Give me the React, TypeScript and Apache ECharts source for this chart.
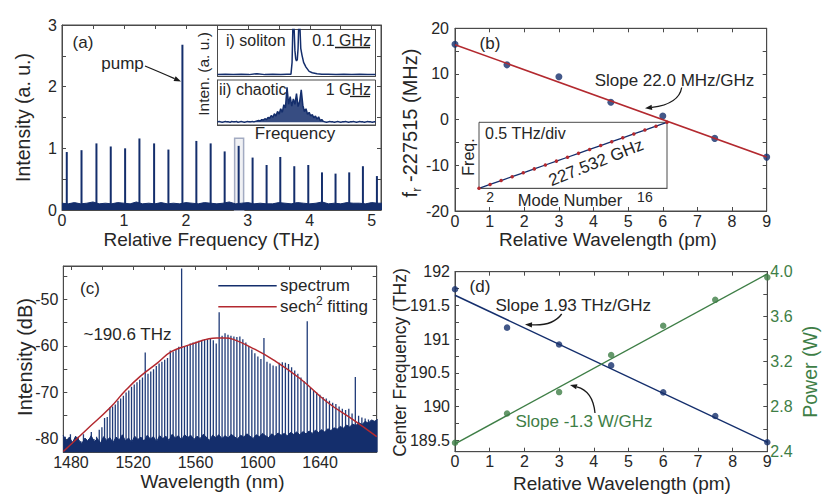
import React, { useEffect, useRef } from "react";
import * as echarts from "echarts";

// ---------- Panel (a): comb spectrum ----------
const aFreqTHz = [0.077, 0.315, 0.556, 0.787, 1.019, 1.25, 1.487, 1.718, 1.944, 2.169, 2.4, 2.626, 2.852, 3.077, 3.303, 3.524, 3.75, 3.976, 4.197, 4.416, 4.637, 4.858, 5.084];
const aIntensity = [0.94, 0.97, 1.08, 1.03, 1.0, 1.16, 1.08, 0.98, 2.68, 1.12, 1.08, 0.95, 1.04, 0.85, 0.73, 0.86, 0.71, 0.73, 0.61, 0.59, 0.61, 0.71, 0.55];
const aFloorStepTHz = 0.1;
const aFloor = [0.11, 0.1, 0.12, 0.1, 0.11, 0.13, 0.1, 0.11, 0.1, 0.12, 0.11, 0.1, 0.13, 0.1, 0.11, 0.1, 0.12, 0.1, 0.11, 0.1, 0.12, 0.11, 0.1, 0.12, 0.11, 0.1, 0.11, 0.13, 0.1, 0.11, 0.12, 0.1, 0.11, 0.1, 0.1, 0.12, 0.11, 0.1, 0.12, 0.11, 0.1, 0.11, 0.13, 0.1, 0.11, 0.1, 0.12, 0.11, 0.11, 0.1, 0.12, 0.11, 0.11];
const aBoxTHz = [2.787, 2.932];
const aBoxInten = [0, 1.163];

// inset i) soliton
const solFreq = [0, 0.05, 0.1, 0.15, 0.2, 0.25, 0.3, 0.35, 0.4, 0.44, 0.465, 0.472, 0.478, 0.483, 0.49, 0.495, 0.5, 0.505, 0.51, 0.515, 0.52, 0.527, 0.535, 0.545, 0.56, 0.58, 0.6, 0.63, 0.66, 0.7, 0.75, 0.8, 0.85, 0.9, 0.95, 1.0];
const solInten = [0.04, 0.05, 0.04, 0.05, 0.04, 0.06, 0.04, 0.05, 0.04, 0.05, 0.05, 0.3, 1.2, 1.2, 0.55, 0.38, 0.33, 0.36, 0.6, 1.2, 1.2, 0.6, 0.45, 0.3, 0.2, 0.11, 0.08, 0.06, 0.05, 0.05, 0.04, 0.05, 0.04, 0.05, 0.04, 0.04];
// inset ii) chaotic (evenly sampled across the inset window)
const chaoInten = [0.07, 0.08, 0.07, 0.06, 0.07, 0.08, 0.07, 0.07, 0.06, 0.08, 0.07, 0.07, 0.08, 0.06, 0.07, 0.08, 0.07, 0.06, 0.07, 0.08, 0.07, 0.07, 0.08, 0.07, 0.08, 0.09,
  0.1, 0.09, 0.12, 0.11, 0.14, 0.12, 0.17, 0.15, 0.21, 0.17, 0.25, 0.2, 0.3, 0.24, 0.36, 0.28, 0.45, 0.38, 0.84, 0.46, 0.63, 0.42, 0.58, 0.46, 0.7, 0.41, 0.52, 0.78, 0.44, 0.3, 0.36, 0.24, 0.28, 0.2, 0.23, 0.16, 0.2, 0.13, 0.18, 0.1, 0.12, 0.08,
  0.07, 0.06, 0.07, 0.08, 0.07, 0.07, 0.06, 0.07, 0.08, 0.07, 0.06, 0.07, 0.07, 0.08, 0.07, 0.06, 0.07, 0.07, 0.08, 0.07, 0.06, 0.07, 0.08, 0.07, 0.07, 0.06, 0.07, 0.08, 0.07, 0.07, 0.06, 0.07, 0.07];

// ---------- Panel (b) ----------
const bWavelengthPm = [0, 1.5, 3, 4.5, 6, 7.5, 9];
const bFrDevMHz = [16.5, 12.0, 9.4, 3.8, 0.8, -4.1, -8.2];
const bFitPm = [0, 9];
const bFitMHz = [16.4, -8.2];
const modeNumber = [1, 2, 3, 4, 5, 6, 7, 8, 9, 10, 11, 12, 13, 14, 15, 16, 17, 18];
const modeFreqTHz = [0.2275, 0.4551, 0.6826, 0.9101, 1.1377, 1.3652, 1.5927, 1.8203, 2.0478, 2.2753, 2.5029, 2.7304, 2.9579, 3.1854, 3.413, 3.6405, 3.868, 4.0956];

// ---------- Panel (c) ----------
const combFsrTHz = 0.227532;
const combPumpTHz = 193.277;
const combPumpIndex = 43;
const combPeakDb = [
  -79.5, -80.5, -79, -80.5, -81, -79.5, -80.5, -79, -80.5, -80, -78.5, -80, -79.5, -78, -77.5,
  -75.5, -75.3, -73.2, -73, -72.6, -71.8, -71.3, -70.7, -70, -69.6, -68.8, -68.3, -67.8, -67.3, -66.8,
  -61.4, -66, -65.5, -65, -64.3, -63.8, -63.4, -63, -62.6, -61, -61.2, -60.8, -60.2, -43.4, -60,
  -59.8, -59.5, -59.3, -59.1, -58.9, -58.8, -58.6, -58.6, -58.5, -58.8, -59.5, -52.8, -57.8, -57.3, -57.6,
  -57.8, -58, -58.1, -58, -58.6, -59.3, -60, -60.8, -61.6, -62.3, -62.8, -58.3, -63.4, -63.8, -64.2,
  -64.4, -63.6, -63.5, -63.6, -63.9, -64.6, -65.3, -66, -66.8, -67.6, -54.7, -69, -69.6, -70, -70.5,
  -71, -71.3, -71.8, -72.2, -72.5, -73, -73.5, -73.8, -73.5, -74.5, -66.7, -75, -75.4, -75.6, -75.8,
  -76.5, -76.3];
const cFloorStartNm = 1475;
const cFloorStepNm = 2;
const cFloorDb = [-79.2, -80.4, -79.6, -80.8, -79.4, -80.2, -81.0, -79.8, -80.5, -79.3, -80.6, -79.9, -80.9, -79.5, -80.3, -79.7, -80.8, -79.6, -80.2, -79.1,
  -80.4, -79.8, -80.7, -79.4, -80.1, -79.6, -80.5, -79.2, -80.0, -79.5, -80.6, -79.3, -79.9, -79.4, -80.3, -79.0, -79.8, -79.3, -80.2, -79.1,
  -79.7, -79.2, -80.1, -79.4, -79.9, -79.0, -79.6, -80.3, -79.2, -79.7, -79.1, -79.9, -79.3, -79.8, -79.0, -79.5, -80.0, -79.2, -79.6, -78.9,
  -79.4, -79.9, -79.1, -79.5, -78.8, -79.3, -79.7, -78.9, -79.4, -78.7, -79.2, -78.8, -79.3, -78.6, -79.0, -78.5, -79.1, -78.4, -78.9, -78.3,
  -78.8, -78.1, -78.6, -78.0, -78.5, -77.8, -78.2, -77.6, -77.9, -77.3, -77.7, -77.0, -77.4, -76.8, -77.1, -76.5, -76.9, -76.2, -76.6, -75.9,
  -76.2, -75.8];
const cFitNm = [1475.1, 1490, 1505.1, 1515, 1524.3, 1535, 1544.7, 1555, 1562.9, 1568, 1573.6, 1579, 1584.3, 1595, 1610, 1627.1, 1644.3, 1661.4, 1676.4];
const cFitDb = [-82.7, -78.0, -73.3, -69.6, -66.6, -63.8, -61.2, -59.9, -59.0, -58.5, -58.3, -58.3, -58.6, -60.2, -63.0, -67.0, -72.0, -75.9, -79.5];

// ---------- Panel (d) ----------
const dWavelengthPm = [0, 1.5, 3, 4.5, 6, 7.5, 9];
const dCenterTHz = [191.74, 191.17, 190.92, 190.61, 190.21, 189.86, 189.47];
const dPowerW = [2.48, 2.74, 2.93, 3.26, 3.52, 3.75, 3.95];
const dFreqFitPm = [0, 9];
const dFreqFitTHz = [191.65, 189.47];
const dPowFitPm = [0, 9];
const dPowFitW = [2.47, 3.98];

// tick label lists
const aXLabels = [0, 1, 2, 3, 4, 5];
const aYLabels = [0, 1, 2, 3];
const bXLabels = [0, 1, 2, 3, 4, 5, 6, 7, 8, 9];
const bYLabels = [-20, -10, 0, 10, 20];
const bInsetXLabels = [2, 16];
const cXLabels = [1480, 1520, 1560, 1600, 1640];
const cYLabels = [-80, -70, -60, -50];
const dXLabels = [0, 1, 2, 3, 4, 5, 6, 7, 8, 9];
const dYLabels = [189.5, 190, 190.5, 191, 191.5, 192];
const dY2Labels = [2.4, 2.8, 3.2, 3.6, 4.0];

const FONT = '"Liberation Sans", Arial, Helvetica, sans-serif';
const NAVY = "#142e6c";
const RED = "#b3292f";
const GREEN = "#3e7e46";
const TXT = "#262626";
const AX = "#4a4a4a";

const plain = (v: number) => String(v);

function axis(grid: number, pos: string, min: number, max: number, labels: number[] | null, ticks: number[] | null, o: any = {}) {
  return {
    type: "value",
    gridIndex: grid,
    position: pos,
    min,
    max,
    axisLine: { show: true, onZero: false, lineStyle: { color: AX, width: 1 } },
    axisTick: ticks
      ? { show: true, inside: true, length: o.tickLen || 4, customValues: ticks, lineStyle: { color: AX, width: 1 } }
      : { show: false },
    axisLabel: labels
      ? { show: true, customValues: labels, color: o.color || TXT, fontSize: o.size || 16, fontFamily: FONT, margin: o.margin ?? 4, formatter: o.fmt || plain }
      : { show: false },
    splitLine: { show: false },
    minorTick: { show: false },
  };
}

const range = (a: number, b: number, s: number) => {
  const r: number[] = [];
  for (let v = a; v <= b + 1e-9; v += s) r.push(Math.round(v * 1000) / 1000);
  return r;
};

function T(text: string, x: number, y: number, o: any = {}) {
  return {
    type: "text",
    x,
    y,
    z: 100,
    rotation: o.rot || 0,
    style: {
      text,
      fill: o.color || TXT,
      fontSize: o.size || 17,
      fontFamily: FONT,
      align: o.align || "center",
      verticalAlign: "middle",
      rich: o.rich,
    },
  };
}

function arrow(x1: number, y1: number, cx: number, cy: number, x2: number, y2: number, color = "#1a1a1a") {
  const dx = x2 - cx, dy = y2 - cy;
  const L = Math.hypot(dx, dy);
  const ux = dx / L, uy = dy / L;
  const hl = 7, hw = 2.6;
  const bx = x2 - ux * hl, by = y2 - uy * hl;
  return [
    { type: "bezierCurve", z: 100, shape: { x1, y1, x2: bx, y2: by, cpx1: cx, cpy1: cy }, style: { stroke: color, lineWidth: 1.3, fill: "none" } },
    { type: "polygon", z: 100, shape: { points: [[x2, y2], [bx - uy * hw, by + ux * hw], [bx + uy * hw, by - ux * hw]] }, style: { fill: color } },
  ];
}

function hline(x1: number, x2: number, y: number, color: string, w = 1.3) {
  return { type: "line", z: 100, shape: { x1, y1: y, x2, y2: y }, style: { stroke: color, lineWidth: w } };
}

const C_YMIN = -82.86;
const C_YMAX = -42.84;

export default function App() {
  const ref = useRef<HTMLDivElement>(null);
  useEffect(() => {
    if (!ref.current) return;
    const chart = echarts.init(ref.current, null, { renderer: "svg" });

    const combData = combPeakDb.map((db, i) => {
      const f = combPumpTHz + (combPumpIndex - i) * combFsrTHz;
      return [299792.458 / f, db];
    });

    const insetTicksX = [0.083, 0.167, 0.25, 0.333, 0.417, 0.5, 0.583, 0.667, 0.75, 0.833, 0.917];

    const option: any = {
      animation: false,
      backgroundColor: "#ffffff",
      grid: [
        { left: 62, top: 25, width: 319, height: 185, show: true, borderColor: AX, borderWidth: 1 },
        { left: 217.5, top: 29.5, width: 158, height: 47, show: true, borderColor: AX, borderWidth: 1, backgroundColor: "#fff", z: 3 },
        { left: 217.5, top: 80, width: 158, height: 45, show: true, borderColor: AX, borderWidth: 1, backgroundColor: "#fff", z: 3 },
        { left: 455, top: 28.3, width: 311.7, height: 182.7, show: true, borderColor: AX, borderWidth: 1 },
        { left: 479, top: 122.3, width: 188, height: 66, show: true, borderColor: AX, borderWidth: 1, backgroundColor: "#fff", z: 3 },
        { left: 63.3, top: 266, width: 313.4, height: 186.3, show: true, borderColor: AX, borderWidth: 1 },
        { left: 455, top: 271.7, width: 312.3, height: 180, show: true, borderColor: AX, borderWidth: 1 },
      ],
      xAxis: [
        axis(0, "bottom", 0, 5.15, aXLabels, range(0.5, 5, 0.5), { margin: 2 }),
        axis(0, "top", 0, 5.15, null, range(0.5, 5, 0.5)),
        axis(1, "bottom", 0, 1, null, insetTicksX, { tickLen: 3 }),
        axis(2, "bottom", 0, 1, null, insetTicksX, { tickLen: 3 }),
        axis(3, "bottom", 0, 9, bXLabels, range(1, 8, 1), { margin: 2 }),
        axis(3, "top", 0, 9, null, range(1, 8, 1)),
        axis(4, "bottom", 1, 18, bInsetXLabels, range(2, 16, 2), { margin: 2, size: 14, tickLen: 3 }),
        axis(5, "bottom", 1475.1, 1676.4, cXLabels, range(1480, 1660, 20), { margin: 2 }),
        axis(5, "top", 1475.1, 1676.4, null, range(1480, 1660, 20)),
        axis(6, "bottom", 0, 9, dXLabels, range(1, 8, 1), { margin: 2 }),
        axis(6, "top", 0, 9, null, range(1, 8, 1)),
        axis(1, "top", 0, 1, null, insetTicksX, { tickLen: 3 }),
        axis(2, "top", 0, 1, null, insetTicksX, { tickLen: 3 }),
      ],
      yAxis: [
        axis(0, "left", 0, 3, aYLabels, range(0.5, 2.5, 0.5), { margin: 5 }),
        axis(0, "right", 0, 3, null, range(0.5, 2.5, 0.5)),
        axis(1, "left", 0, 1, null, [0.25, 0.5, 0.75], { tickLen: 3 }),
        axis(2, "left", 0, 1, null, [0.25, 0.5, 0.75], { tickLen: 3 }),
        axis(3, "left", -20, 20, bYLabels, range(-15, 15, 5), { margin: 6 }),
        axis(3, "right", -20, 20, null, range(-15, 15, 5)),
        axis(4, "left", 0.2275, 4.0956, null, range(0.5, 4, 0.5), { tickLen: 3 }),
        axis(5, "left", C_YMIN, C_YMAX, cYLabels, range(-80, -45, 5), { margin: 5 }),
        axis(5, "right", C_YMIN, C_YMAX, null, range(-80, -45, 5)),
        axis(6, "left", 189.33, 192, dYLabels, range(189.5, 191.75, 0.25), { margin: 5 }),
        axis(6, "right", 2.4, 4.0, dY2Labels, range(2.6, 3.8, 0.2), { margin: 3, color: GREEN, fmt: (v: number) => v.toFixed(1) }),
      ],
      series: [
        {
          type: "line",
          name: "a-floor",
          xAxisIndex: 0,
          yAxisIndex: 0,
          data: aFloor.map((v, i) => [i * aFloorStepTHz, v]),
          symbol: "none",
          lineStyle: { color: NAVY, width: 1 },
          areaStyle: { color: NAVY, opacity: 1, origin: "start" },
          markArea: {
            silent: true,
            itemStyle: { color: "rgba(200,204,215,0.28)", borderColor: "#a3abc2", borderWidth: 1.5 },
            data: [[{ xAxis: aBoxTHz[0], yAxis: aBoxInten[0] }, { xAxis: aBoxTHz[1], yAxis: aBoxInten[1] }]],
          },
        },
        {
          type: "custom",
          name: "a-spikes",
          xAxisIndex: 0,
          yAxisIndex: 0,
          clip: true,
          data: aFreqTHz.map((f, i) => [f, aIntensity[i]]),
          renderItem: (_p: any, api: any) => {
            const t = api.coord([api.value(0), api.value(1)]);
            const b = api.coord([api.value(0), 0]);
            return { type: "rect", shape: { x: t[0] - 1, y: t[1], width: 2, height: b[1] - t[1] }, style: { fill: NAVY } };
          },
        },
        {
          type: "line",
          xAxisIndex: 2,
          yAxisIndex: 2,
          z: 4,
          data: solFreq.map((f, i) => [f, solInten[i]]),
          symbol: "none",
          clip: true,
          lineStyle: { color: NAVY, width: 1.5 },
        },
        {
          type: "line",
          xAxisIndex: 3,
          yAxisIndex: 3,
          z: 4,
          data: chaoInten.map((v, i) => [i / (chaoInten.length - 1), v]),
          symbol: "none",
          clip: true,
          lineStyle: { color: NAVY, width: 1.5 },
          areaStyle: { color: NAVY, opacity: 0.85, origin: 0.06 },
        },
        {
          type: "line",
          xAxisIndex: 4,
          yAxisIndex: 4,
          data: bFitPm.map((x, i) => [x, bFitMHz[i]]),
          symbol: "none",
          lineStyle: { color: RED, width: 1.5 },
        },
        {
          type: "scatter",
          xAxisIndex: 4,
          yAxisIndex: 4,
          data: bWavelengthPm.map((x, i) => [x, bFrDevMHz[i]]),
          symbolSize: 7,
          itemStyle: { color: NAVY },
        },
        {
          type: "line",
          xAxisIndex: 6,
          yAxisIndex: 6,
          z: 5,
          data: modeNumber.map((n, i) => [n, modeFreqTHz[i]]),
          symbol: "circle",
          symbolSize: 3.5,
          itemStyle: { color: RED },
          lineStyle: { color: NAVY, width: 1.3 },
        },
        {
          type: "line",
          xAxisIndex: 7,
          yAxisIndex: 7,
          data: cFloorDb.map((v, i) => [cFloorStartNm + i * cFloorStepNm, v]),
          symbol: "none",
          clip: true,
          lineStyle: { color: NAVY, width: 1 },
          areaStyle: { color: NAVY, opacity: 1, origin: "start" },
        },
        {
          type: "custom",
          xAxisIndex: 7,
          yAxisIndex: 7,
          clip: true,
          data: combData,
          renderItem: (_p: any, api: any) => {
            const t = api.coord([api.value(0), api.value(1)]);
            const b = api.coord([api.value(0), C_YMIN]);
            return { type: "line", shape: { x1: t[0], y1: t[1], x2: b[0], y2: b[1] }, style: { stroke: "#1f3b78", lineWidth: 1.3 } };
          },
        },
        {
          type: "line",
          xAxisIndex: 7,
          yAxisIndex: 7,
          z: 6,
          data: cFitNm.map((x, i) => [x, cFitDb[i]]),
          symbol: "none",
          smooth: true,
          clip: true,
          lineStyle: { color: RED, width: 1.5 },
        },
        {
          type: "line",
          xAxisIndex: 9,
          yAxisIndex: 9,
          data: dFreqFitPm.map((x, i) => [x, dFreqFitTHz[i]]),
          symbol: "none",
          lineStyle: { color: NAVY, width: 1.5 },
        },
        {
          type: "scatter",
          xAxisIndex: 9,
          yAxisIndex: 9,
          data: dWavelengthPm.map((x, i) => [x, dCenterTHz[i]]),
          symbolSize: 6.5,
          itemStyle: { color: NAVY },
        },
        {
          type: "line",
          xAxisIndex: 9,
          yAxisIndex: 10,
          data: dPowFitPm.map((x, i) => [x, dPowFitW[i]]),
          symbol: "none",
          lineStyle: { color: GREEN, width: 1.5 },
        },
        {
          type: "scatter",
          xAxisIndex: 9,
          yAxisIndex: 10,
          data: dWavelengthPm.map((x, i) => [x, dPowerW[i]]),
          symbolSize: 6.5,
          itemStyle: { color: GREEN },
        },
      ],
      graphic: [
        // panel (a)
        T("(a)", 83, 42),
        T("pump", 122.5, 63),
        ...arrow(145, 66, 163, 73.5, 181, 81.5),
        T("Intensity (a. u.)", 23, 117.5, { size: 19.5, rot: Math.PI / 2 }),
        T("Relative Frequency (THz)", 211.7, 239, { size: 19 }),
        T("Inten. (a. u.)", 203.5, 74, { size: 15.5, rot: Math.PI / 2 }),
        T("i) soliton", 226, 40, { size: 16, align: "left" }),
        T("0.1 GHz", 371, 40, { size: 16, align: "right" }),
        hline(335, 370, 47.5, "#1a1a1a"),
        T("ii) chaotic", 219, 89, { size: 16, align: "left" }),
        T("1 GHz", 371, 89, { size: 16, align: "right" }),
        hline(350, 370, 96.5, "#1a1a1a"),
        T("Frequency", 295, 133, { size: 17 }),
        // panel (b)
        T("(b)", 490, 43),
        T("Slope 22.0 MHz/GHz", 674.5, 80),
        ...arrow(681.7, 87.5, 679, 104, 645, 108.3),
        T("{i|f}{s|r}{i| -227515 (MHz)}", 410, 123, {
          rot: Math.PI / 2,
          rich: {
            i: { fontSize: 20, fontFamily: FONT, fill: TXT, lineHeight: 26 },
            s: { fontSize: 13, fontFamily: FONT, fill: TXT, lineHeight: 13, verticalAlign: "bottom" },
          },
        }),
        T("Relative Wavelength (pm)", 608, 239, { size: 19 }),
        T("0.5 THz/div", 485, 133, { size: 16, align: "left" }),
        T("Freq.", 468.5, 157, { size: 16, rot: Math.PI / 2 }),
        T("Mode Number", 570, 200, { size: 16.5 }),
        T("227.532 GHz", 596, 162.5, { size: 17, rot: 0.38 }),
        // panel (c)
        T("(c)", 90, 288),
        T("~190.6 THz", 127.5, 334),
        hline(218.3, 276.7, 285.7, NAVY, 1.5),
        hline(218.3, 276.7, 306.7, RED, 1.5),
        T("spectrum", 280, 285, { align: "left" }),
        T("{i|sech}{p|2}{i| fitting}", 280, 306, {
          align: "left",
          rich: {
            i: { fontSize: 17, fontFamily: FONT, fill: TXT, lineHeight: 22 },
            p: { fontSize: 12, fontFamily: FONT, fill: TXT, lineHeight: 12, verticalAlign: "top" },
          },
        }),
        T("Intensity (dB)", 25, 357, { size: 20, rot: Math.PI / 2 }),
        T("Wavelength (nm)", 212.5, 481.5, { size: 19 }),
        // panel (d)
        T("(d)", 480, 286),
        T("Slope 1.93 THz/GHz", 573.3, 305),
        ...arrow(561.7, 314, 553, 326, 525, 324.5),
        T("Slope -1.3 W/GHz", 584, 421.7, { color: GREEN }),
        ...arrow(595, 413, 593, 391, 570, 385),
        T("Center Frequency (THz)", 400, 362.5, { size: 17.5, rot: Math.PI / 2 }),
        T("Power (W)", 810, 371.7, { size: 19.5, rot: Math.PI / 2, color: GREEN }),
        T("Relative Wavelength (pm)", 622, 483, { size: 19 }),
      ],
    };

    chart.setOption(option);
    return () => chart.dispose();
  }, []);

  return <div ref={ref} style={{ position: "fixed", left: 0, top: 0, width: 831, height: 499, background: "#fff" }} />;
}
